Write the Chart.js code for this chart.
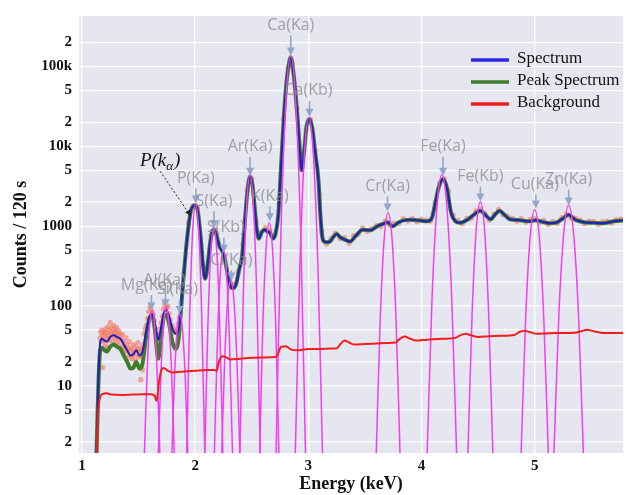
<!DOCTYPE html>
<html>
<head>
<meta charset="utf-8">
<title>EDX spectrum</title>
<script src="https://cdn.jsdelivr.net/npm/chart.js@4.4.0/dist/chart.umd.min.js"></script>
<style>
  html, body { margin: 0; padding: 0; background: #fff; }
</style>
</head>
<body>
<canvas id="edx-chart" width="627" height="495"></canvas>
<script>
// spectrum (smoothed) + peak spectrum, same energy grid
const energyKeV = [
  1.128,1.145,1.16,1.175,1.2,1.22,1.25,1.28,1.31,1.34,
  1.37,1.40,1.43,1.455,1.48,1.51,1.535,1.57,1.595,1.62,
  1.645,1.675,1.70,1.725,1.745,1.77,1.80,1.83,1.855,1.875,
  1.90,1.93,1.96,1.985,2.005,2.025,2.05,2.07,2.088,2.11,
  2.135,2.15,2.167,2.19,2.215,2.245,2.27,2.30,2.32,2.34,
  2.36,2.39,2.415,2.44,2.465,2.485,2.505,2.525,2.545,2.562,
  2.59,2.615,2.64,2.66,2.69,2.71,2.735,2.765,2.795,2.82,
  2.845,2.87,2.90,2.925,2.94,2.96,2.985,3.01,3.035,3.06,
  3.09,3.105,3.12,3.135,3.16,3.19,3.22,3.25,3.28,3.32,
  3.37,3.42,3.48,3.55,3.61,3.67,3.70,3.745,3.80,3.85,
  3.90,3.965,4.05,4.09,4.12,4.15,4.19,4.225,4.26,4.30,
  4.34,4.40,4.45,4.52,4.56,4.61,4.65,4.69,4.73,4.78,
  4.87,4.95,5.01,5.07,5.13,5.19,5.25,5.30,5.34,5.37,
  5.46,5.53,5.60,5.70,5.78
];
const spectrumCounts = [
  1.3,12,34,39,37,36,41,43,41,39,
  33,28,24,25,28,24,27,50,72,79,
  60,38,55,84,89,75,52,45,52,100,
  250,720,1500,1800,1830,1500,700,320,220,330,
  650,850,900,760,560,470,340,200,170,168,
  185,290,420,1200,3000,4200,3400,1800,900,700,
  850,900,850,830,700,800,1400,8000,40000,90000,
  130000,80000,28000,9000,5000,8000,18000,22000,17000,8500,
  3700,1500,800,650,630,640,730,800,730,680,
  645,760,900,890,1000,1080,1120,1000,1120,1190,
  1200,1190,1150,1250,1900,3000,3900,3000,1500,1150,
  1100,1190,1350,1560,1400,1220,1400,1560,1400,1220,
  1190,1150,1190,1130,1090,1110,1250,1390,1260,1180,
  1110,1100,1090,1150,1180
];
const peakSpectrumCounts = [
  1.3,10,27,30,28,27,31,33,31,29,
  24,20,16.5,17,20,16.5,19,45,70,77,
  50,22,40,75,78,60,35,29,40,90,
  250,720,1500,1800,1830,1500,700,320,220,330,
  650,850,900,760,560,470,340,200,170,168,
  185,290,420,1200,3000,4200,3400,1800,900,700,
  850,900,850,830,700,800,1400,8000,40000,90000,
  130000,80000,28000,9000,5000,8000,18000,22000,17000,8500,
  3700,1500,800,650,630,640,730,800,730,680,
  645,760,900,890,1000,1080,1120,1000,1120,1190,
  1200,1190,1150,1250,1900,3000,3900,3000,1500,1150,
  1100,1190,1350,1560,1400,1220,1400,1560,1400,1220,
  1190,1150,1190,1130,1090,1110,1250,1390,1260,1180,
  1110,1100,1090,1150,1180
];

// background
const bgEnergy = [
  1.128,1.14,1.16,1.18,1.22,1.26,1.35,1.45,1.55,1.61,
  1.64,1.66,1.68,1.70,1.72,1.76,1.80,1.90,2.00,2.10,
  2.17,2.19,2.21,2.24,2.27,2.31,2.40,2.50,2.60,2.71,
  2.73,2.76,2.80,2.85,2.90,3.00,3.10,3.20,3.25,3.28,
  3.32,3.36,3.41,3.50,3.60,3.70,3.77,3.80,3.85,3.90,
  3.95,4.05,4.20,4.30,4.34,4.39,4.44,4.50,4.60,4.70,
  4.82,4.86,4.91,4.96,5.02,5.10,5.20,5.35,5.41,5.46,
  5.52,5.58,5.68,5.78
];
const bgCounts = [
  1.3,4,7.2,7.9,8.1,7.8,7.7,7.8,7.9,7.9,
  7.6,6.5,11,15.5,16.8,15.5,14.8,15.2,15.5,15.8,
  15.9,15.5,20,23.5,23,21.5,22,22.5,22.8,23,
  25,31,31.5,28.5,28,29,29,29.5,29.5,33,
  37,35,33,33.5,34,34.5,35,38,41.5,39,
  37,38,39,40,43,45,43,41,42,42.5,
  43.5,47,49,47,45,45.5,46,46.5,48.5,50.5,
  48.5,46.5,46,46
];

// raw channel counts (dots)
const rawEnergy = [
  1.16,1.165,1.17,1.175,1.18,1.185,1.19,1.195,1.20,1.205,
  1.21,1.215,1.22,1.225,1.23,1.235,1.24,1.245,1.25,1.255,
  1.26,1.265,1.27,1.275,1.28,1.285,1.29,1.295,1.30,1.305,
  1.31,1.315,1.32,1.325,1.33,1.335,1.34,1.35,1.355,1.36,
  1.365,1.37,1.375,1.38,1.39,1.395,1.40,1.405,1.41,1.42,
  1.425,1.43,1.44,1.445,1.45,1.455,1.46,1.47,1.475,1.48,
  1.49,1.495,1.50,1.51,1.515,1.52,1.525,1.53,1.535,1.54,
  1.55,1.56,1.57,1.58,1.59,1.60,1.61,1.62,1.63,1.64,
  1.65,1.66,1.67,1.68,1.69,1.70,1.71,1.72,1.73,1.74,
  1.75,1.76,1.77,1.78,1.79,1.80,1.81,1.82,1.83,1.84,
  1.85,1.86,1.90,1.94,1.98,2.02,2.06,2.10,2.14,2.18,
  2.22,2.26,2.30,2.34,2.38,2.42,2.46,2.50,2.54,2.58,
  2.62,2.66,2.70,2.74,2.78,2.82,2.86,2.90,2.94,2.98,
  3.02,3.06,3.10,3.12,3.16,3.20,3.24,3.28,3.32,3.36,
  3.40,3.44,3.48,3.52,3.56,3.60,3.64,3.68,3.72,3.76,
  3.80,3.84,3.88,3.92,3.96,4.00,4.04,4.08,4.12,4.16,
  4.20,4.24,4.28,4.32,4.36,4.40,4.44,4.48,4.52,4.56,
  4.60,4.64,4.68,4.72,4.76,4.80,4.84,4.88,4.92,4.96,
  5.00,5.04,5.08,5.12,5.16,5.20,5.24,5.28,5.32,5.36,
  5.40,5.44,5.48,5.52,5.56,5.60,5.64,5.68,5.72,5.76
];
const rawCounts = [
  40,47,36,50,43,17,38,48,45,33,
  52,40,46,30,55,42,37,50,62,45,
  40,53,48,35,57,44,50,39,47,54,
  42,36,50,44,32,46,40,29,37,44,
  31,26,35,30,40,27,33,23,29,36,
  25,30,22,28,24,33,27,21,31,25,
  29,35,23,27,30,12,24,28,16,33,
  45,52,58,70,85,98,92,84,78,66,
  52,44,40,45,52,62,75,92,108,98,
  95,100,80,68,58,54,50,47,48,52,
  60,72,260,1100,1800,1700,480,260,760,900,
  560,400,215,190,270,600,2800,3900,1150,840,
  960,880,780,1900,22000,95000,108000,30000,5300,16000,
  21500,8800,2500,860,600,700,820,700,720,610,
  760,790,950,860,930,1020,990,1160,1030,1090,
  1080,1240,1160,1250,1140,1230,1190,1160,1980,3450,
  3950,2750,1380,1180,1070,1250,1260,1550,1640,1450,
  1190,1420,1620,1390,1340,1260,1150,1240,1120,1220,
  1250,1110,1180,1050,1150,1080,1290,1430,1270,1260,
  1200,1070,1160,1150,1050,1140,1160,1090,1210,1230
];

// fitted single peaks [keV, counts]
const mgFit = [[1.552,1.45],[1.575,14],[1.597,56],[1.62,88],[1.643,56],[1.665,14],[1.688,1.45]];
const alFit = [[1.675,1.45],[1.698,15],[1.722,61],[1.745,98],[1.768,61],[1.792,15],[1.815,1.45]];
const siFit = [[1.795,1.45],[1.818,13.5],[1.842,51],[1.865,80],[1.888,51],[1.912,13.5],[1.935,1.45]];
const pFit = [[1.925,1.45],[1.952,78],[1.978,857],[2.005,1900],[2.032,857],[2.058,78],[2.085,1.45]];
const sKaFit = [[2.085,1.45],[2.112,53],[2.138,462],[2.165,950],[2.192,462],[2.218,53],[2.245,1.45]];
const sKbFit = [[2.17,1.45],[2.197,37],[2.223,261],[2.25,500],[2.277,261],[2.303,37],[2.33,1.45]];
const clFit = [[2.235,1.45],[2.262,23],[2.288,121],[2.315,210],[2.342,121],[2.368,23],[2.395,1.45]];
const arFit = [[2.395,1.45],[2.425,125],[2.455,1800],[2.485,4400],[2.515,1800],[2.545,125],[2.575,1.45]];
const kFit = [[2.57,1.45],[2.598,58],[2.627,526],[2.655,1100],[2.683,526],[2.712,58],[2.74,1.45]];
const caKaFit = [[2.715,1.45],[2.758,838],[2.802,37800],[2.845,135000],[2.888,37800],[2.932,838],[2.975,1.45]];
const caKbFit = [[2.885,1.45],[2.925,313],[2.965,7850],[3.005,23000],[3.045,7850],[3.085,313],[3.125,1.45]];
const crFit = [[3.60,1.45],[3.635,68],[3.67,684],[3.705,1475],[3.74,684],[3.775,68],[3.81,1.45]];
const feKaFit = [[4.05,1.45],[4.093,125],[4.137,1810],[4.18,4420],[4.223,1810],[4.267,125],[4.31,1.45]];
const feKbFit = [[4.41,1.45],[4.447,81],[4.483,903],[4.52,2020],[4.557,903],[4.593,81],[4.63,1.45]];
const cuFit = [[4.88,1.45],[4.92,71],[4.96,735],[5.0,1600],[5.04,735],[5.08,71],[5.12,1.45]];
const znFit = [[5.17,1.45],[5.213,77],[5.257,826],[5.30,1830],[5.343,826],[5.387,77],[5.43,1.45]];
const peakFits = [mgFit, alFit, siFit, pFit, sKaFit, sKbFit, clFit, arFit, kFit, caKaFit, caKbFit, crFit, feKaFit, feKbFit, cuFit, znFit];

// peak labels (arrow tip at energy / counts)
const peakNames = ['Mg(Ka)','Al(Ka)','Si(Ka)','P(Ka)','S(Ka)','S(Kb)','Cl(Ka)','Ar(Ka)','K(Ka)','Ca(Ka)','Ca(Kb)','Cr(Ka)','Fe(Ka)','Fe(Kb)','Cu(Ka)','Zn(Ka)'];
const peakEnergy = [1.614,1.738,1.862,2.006,2.167,2.254,2.32,2.485,2.66,2.845,3.01,3.70,4.19,4.52,5.01,5.30];
const peakTip = [89,97,80,1920,945,464,209,4270,1150,137000,23400,1530,4270,2030,1670,1815];

const xTicks = [1, 2, 3, 4, 5];
const yTicks = [2,5,10,20,50,100,200,500,1000,2000,5000,10000,20000,50000,100000,200000];
const yTickLabels = ['2','5','10','2','5','100','2','5','1000','2','5','10k','2','5','100k','2'];

// label text offsets in px from arrow tip
const labelShift = [[-5,-25],[-1,-27],[-2,-24],[0,-25],[0,-27],[2,-25],[0,-20],[0,-29],[0,-25],[0,-30],[-1,-26],[0,-25],[0,-29],[0,-25],[-1,-24],[0,-26]];
const pAlphaTip = {x: 1.965, y: 1330};

const toXY = (xs, ys) => xs.map((v, i) => ({x: v, y: ys[i]}));

const SERIF = "'Liberation Serif', 'Times New Roman', serif";
Chart.defaults.font.family = SERIF;
Chart.defaults.color = '#111';

// grey plot background
const plotBg = {
    id: 'plotBg',
    beforeDraw(chart) {
        const {ctx, chartArea: a} = chart;
        ctx.save();
        ctx.fillStyle = '#e6e6f0';
        ctx.fillRect(a.left, a.top, a.right - a.left, a.bottom - a.top);
        ctx.restore();
    }
};

// element labels, arrows, P(k_alpha) note and legend
const peakMarks = {
    id: 'peakMarks',
    afterDatasetsDraw(chart) {
        const {ctx, chartArea: a} = chart;
        const x = chart.scales.x, y = chart.scales.y;
        ctx.save();
        ctx.beginPath();
        ctx.rect(a.left, 0, a.right - a.left, a.bottom);
        ctx.clip();
        ctx.textAlign = 'center';
        ctx.textBaseline = 'middle';
        ctx.font = "16px 'Open Sans'";
        peakNames.forEach((name, i) => {
            const px = x.getPixelForValue(peakEnergy[i]);
            const py = y.getPixelForValue(peakTip[i]);
            const [dx, dy] = labelShift[i];
            ctx.strokeStyle = '#92a6ca';
            ctx.fillStyle = '#92a6ca';
            ctx.lineWidth = 1.6;
            ctx.beginPath();
            ctx.moveTo(px, py + dy + 10);
            ctx.lineTo(px, py - 6);
            ctx.stroke();
            ctx.beginPath();
            ctx.moveTo(px - 4, py - 8);
            ctx.lineTo(px + 4, py - 8);
            ctx.lineTo(px, py);
            ctx.closePath();
            ctx.fill();
            ctx.fillStyle = 'rgba(140,140,148,0.8)';
            ctx.fillText(name, px + dx, py + dy);
        });

        // P(k_alpha) with dotted arrow
        const tx = x.getPixelForValue(pAlphaTip.x), ty = y.getPixelForValue(pAlphaTip.y);
        const sx = tx - 31, sy = ty - 45;
        ctx.strokeStyle = '#222';
        ctx.fillStyle = '#222';
        ctx.lineWidth = 1;
        ctx.setLineDash([2, 2]);
        ctx.beginPath();
        ctx.moveTo(sx, sy);
        ctx.lineTo(tx - 3, ty - 4);
        ctx.stroke();
        ctx.setLineDash([]);
        const ang = Math.atan2(ty - sy, tx - sx);
        ctx.beginPath();
        ctx.moveTo(tx, ty);
        ctx.lineTo(tx - 7 * Math.cos(ang - 0.4), ty - 7 * Math.sin(ang - 0.4));
        ctx.lineTo(tx - 7 * Math.cos(ang + 0.4), ty - 7 * Math.sin(ang + 0.4));
        ctx.closePath();
        ctx.fill();

        const big = "italic 19px " + SERIF, small = "italic 13px " + SERIF;
        ctx.textAlign = 'left';
        ctx.textBaseline = 'alphabetic';
        ctx.font = big;
        const w1 = ctx.measureText('P(k').width, w3 = ctx.measureText(')').width;
        ctx.font = small;
        const w2 = ctx.measureText('\u03b1').width + 1;
        let cx = tx - 31 - (w1 + w2 + w3) / 2;
        const base = ty - 50;
        ctx.fillStyle = '#111';
        ctx.font = big;
        ctx.fillText('P(k', cx, base);
        ctx.font = small;
        ctx.fillText('\u03b1', cx + w1, base + 4);
        ctx.font = big;
        ctx.fillText(')', cx + w1 + w2, base);
        ctx.restore();

        // legend, top right inside the plot
        ctx.save();
        ctx.font = "17px " + SERIF;
        ctx.textAlign = 'left';
        ctx.textBaseline = 'middle';
        chart.data.datasets.filter(d => d.inLegend).forEach((d, i) => {
            const ly = a.top + 43 + i * 22;
            ctx.strokeStyle = d.legendColor || d.borderColor;
            ctx.lineWidth = 3.5;
            ctx.beginPath();
            ctx.moveTo(a.right - 152, ly + 1);
            ctx.lineTo(a.right - 114, ly + 1);
            ctx.stroke();
            ctx.fillStyle = '#111';
            ctx.fillText(d.label, a.right - 106, ly);
        });
        ctx.restore();
    }
};

const fitDatasets = peakFits.map((pts, i) => ({
    label: peakNames[i] + ' fit',
    data: pts.map(p => ({x: p[0], y: p[1]})),
    showLine: true,
    borderColor: '#f43cf4',
    borderWidth: 1.5,
    pointRadius: 0,
    cubicInterpolationMode: 'monotone',
    order: 2
}));

const ctx = document.getElementById('edx-chart').getContext('2d');

const edxChart = new Chart(ctx, {
    type: 'scatter',
    data: {
        datasets: [
            {
                label: 'Spectrum',
                inLegend: true,
                legendColor: '#2a2ae6',
                data: toXY(energyKeV, spectrumCounts),
                showLine: true,
                borderColor: '#2020b8',
                borderWidth: 2,
                pointRadius: 0,
                cubicInterpolationMode: 'monotone',
                order: 3
            },
            {
                label: 'Peak Spectrum',
                inLegend: true,
                data: toXY(energyKeV, peakSpectrumCounts),
                showLine: true,
                borderColor: '#3f7d2a',
                borderWidth: 4,
                pointRadius: 0,
                cubicInterpolationMode: 'monotone',
                order: 4
            },
            {
                label: 'Background',
                inLegend: true,
                data: toXY(bgEnergy, bgCounts),
                showLine: true,
                borderColor: '#f21d1d',
                borderWidth: 2,
                pointRadius: 0,
                cubicInterpolationMode: 'monotone',
                order: 1
            },
            {
                label: 'Counts',
                data: toXY(rawEnergy, rawCounts),
                showLine: false,
                pointRadius: 2.6,
                pointBorderWidth: 0,
                pointBackgroundColor: 'rgba(244,118,96,0.6)',
                order: 5
            },
            ...fitDatasets
        ]
    },
    options: {
        responsive: false,
        animation: false,
        layout: { padding: { top: 10, left: 0, right: 0, bottom: 0 } },
        plugins: {
            legend: { display: false },
            tooltip: { enabled: false }
        },
        scales: {
            x: {
                type: 'linear',
                min: 0.974,
                max: 5.78,
                afterBuildTicks: s => { s.ticks = xTicks.map(v => ({value: v})); },
                afterFit: s => { s.height = 42; },
                grid: { color: '#ffffff', lineWidth: 1.3, drawTicks: false },
                border: { display: false },
                ticks: {
                    padding: 4,
                    autoSkip: false,
                    maxRotation: 0,
                    color: '#111',
                    font: { size: 15, weight: 'bold' }
                },
                title: {
                    display: true,
                    text: 'Energy (keV)',
                    color: '#111',
                    padding: 0,
                    font: { size: 18, weight: 'bold' }
                }
            },
            y: {
                type: 'logarithmic',
                min: 1.45,
                max: 427000,
                afterBuildTicks: s => { s.ticks = yTicks.map(v => ({value: v})); },
                afterFit: s => { s.width = 79; },
                grid: { color: '#ffffff', lineWidth: 1.3, drawTicks: false },
                border: { display: false },
                ticks: {
                    padding: 7,
                    autoSkip: false,
                    color: '#111',
                    font: { size: 15, weight: 'bold' },
                    callback: (v, i) => yTickLabels[i]
                },
                title: {
                    display: true,
                    text: 'Counts / 120 s',
                    color: '#111',
                    padding: { top: 11, bottom: 0 },
                    font: { size: 18, weight: 'bold' }
                }
            }
        }
    },
    plugins: [plotBg, peakMarks]
});
</script>
</body>
</html>
